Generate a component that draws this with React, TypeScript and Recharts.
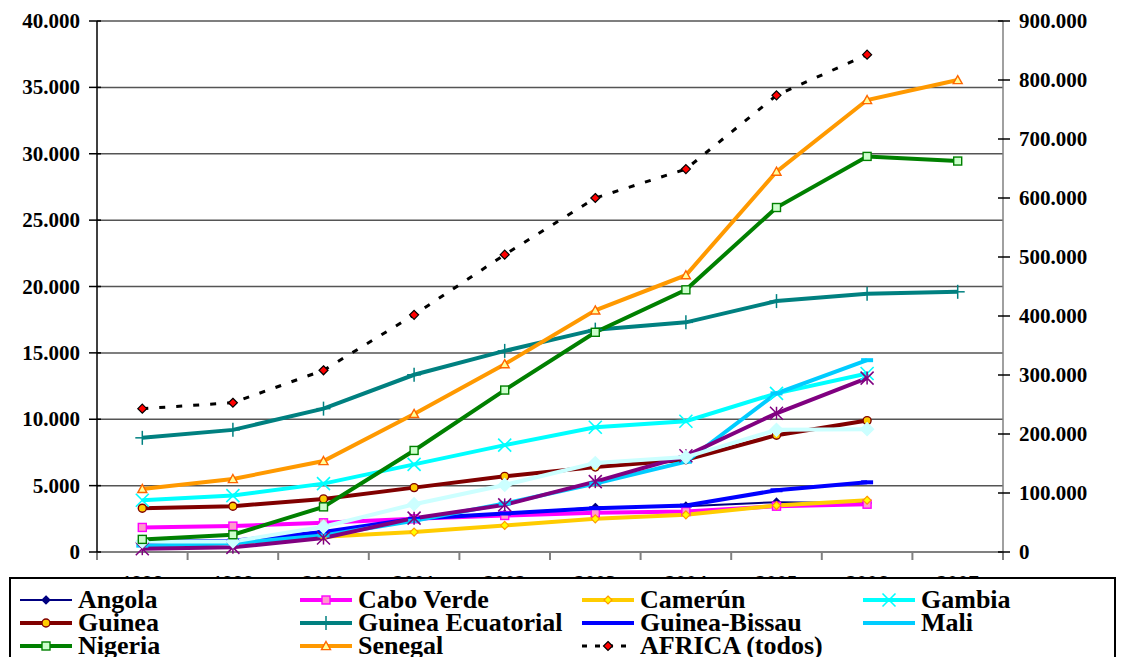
import React from 'react';
import { LineChart, Line, XAxis, YAxis, CartesianGrid } from 'recharts';

// Años (eje X)
const years = ['1998', '1999', '2000', '2001', '2002', '2003', '2004', '2005', '2006', '2007'];

// Series por país (eje izquierdo)
const angola = [900, 850, 1350, 2550, 2850, 3350, 3450, 3750, 3700, null];
const caboVerde = [1850, 1950, 2200, 2500, 2750, 2950, 3050, 3450, 3600, null];
const camerun = [550, 700, 1150, 1500, 2000, 2500, 2800, 3500, 3900, null];
const gambia = [3900, 4250, 5150, 6600, 8050, 9400, 9850, 11950, 13450, null];
const guinea = [3300, 3450, 4000, 4850, 5700, 6400, 6950, 8800, 9900, null];
const guineaEcuatorial = [8600, 9200, 10800, 13350, 15150, 16750, 17300, 18900, 19450, 19600];
const guineaBissau = [750, 850, 1500, 2500, 2900, 3300, 3500, 4650, 5250, null];
const mali = [480, 650, 1250, 2350, 3650, 5150, 6800, 11950, 14450, null];
const otraA = [250, 350, 1050, 2550, 3550, 5300, 7250, 10450, 13100, null];
const otraB = [800, 800, 1900, 3600, 5050, 6700, 7150, 9200, 9250, null];
const nigeria = [950, 1300, 3400, 7650, 12200, 16550, 19750, 25950, 29800, 29450];
const senegal = [4750, 5500, 6850, 10400, 14150, 18200, 20850, 28650, 34050, 35550];

// Total continental (eje derecho)
const africa = [243000, 253000, 308000, 402000, 504000, 600000, 649000, 774000, 843000, null];

const leftTicks = [0, 5000, 10000, 15000, 20000, 25000, 30000, 35000, 40000];
const rightTicks = [0, 100000, 200000, 300000, 400000, 500000, 600000, 700000, 800000, 900000];

const FONT = '"Liberation Serif", "Times New Roman", serif';
const PLOT_W = 906;

type Shape = 'diamond' | 'square' | 'triangle' | 'circle' | 'x' | 'plus' | 'star' | 'dash';

interface Serie {
  key: string;
  label?: string;
  color: string;
  width: number;
  shape: Shape;
  size: number;
  fill: string;
  edge: string;
  axis: 'left' | 'right';
  dash?: string;
  values: (number | null)[];
}

// Orden de dibujo (las últimas quedan encima)
const series: Serie[] = [
  { key: 'angola', label: 'Angola', color: '#000080', width: 2, shape: 'diamond', size: 8, fill: '#000080', edge: '#000080', axis: 'left', values: angola },
  { key: 'caboVerde', label: 'Cabo Verde', color: '#FF00FF', width: 4, shape: 'square', size: 8, fill: '#FF99CC', edge: '#FF00FF', axis: 'left', values: caboVerde },
  { key: 'camerun', label: 'Camerún', color: '#FFCC00', width: 4, shape: 'diamond', size: 8, fill: '#FFFF00', edge: '#FF9900', axis: 'left', values: camerun },
  { key: 'gambia', label: 'Gambia', color: '#00FFFF', width: 4, shape: 'x', size: 13, fill: 'none', edge: '#00FFFF', axis: 'left', values: gambia },
  { key: 'guinea', label: 'Guinea', color: '#800000', width: 4, shape: 'circle', size: 8, fill: '#FFCC00', edge: '#800000', axis: 'left', values: guinea },
  { key: 'guineaEcuatorial', label: 'Guinea Ecuatorial', color: '#008080', width: 4, shape: 'plus', size: 14, fill: 'none', edge: '#008080', axis: 'left', values: guineaEcuatorial },
  { key: 'guineaBissau', label: 'Guinea-Bissau', color: '#0000FF', width: 4, shape: 'dash', size: 12, fill: 'none', edge: '#0000FF', axis: 'left', values: guineaBissau },
  { key: 'mali', label: 'Mali', color: '#00CCFF', width: 4, shape: 'dash', size: 12, fill: 'none', edge: '#00CCFF', axis: 'left', values: mali },
  { key: 'otraA', color: '#800080', width: 4, shape: 'star', size: 13, fill: 'none', edge: '#800080', axis: 'left', values: otraA },
  { key: 'otraB', color: '#CCFFFF', width: 4, shape: 'diamond', size: 13, fill: '#CCFFFF', edge: '#CCFFFF', axis: 'left', values: otraB },
  { key: 'nigeria', label: 'Nigeria', color: '#008000', width: 4, shape: 'square', size: 8, fill: '#CCFFCC', edge: '#008000', axis: 'left', values: nigeria },
  { key: 'senegal', label: 'Senegal', color: '#FF9900', width: 4, shape: 'triangle', size: 9, fill: '#FFFF99', edge: '#FF6600', axis: 'left', values: senegal },
  { key: 'africa', label: 'AFRICA (todos)', color: '#000000', width: 3, shape: 'diamond', size: 9, fill: '#FF0000', edge: '#000000', axis: 'right', dash: '6 11', values: africa },
];

const legendOrder = ['angola', 'caboVerde', 'camerun', 'gambia', 'guinea', 'guineaEcuatorial', 'guineaBissau', 'mali', 'nigeria', 'senegal', 'africa'];
const legendCols = [11, 291, 573, 854];
const legendRows = [21, 44, 67];

const rows = years.map((year, i) => {
  const row: Record<string, string | number | null> = { year };
  series.forEach((s) => {
    row[s.key] = s.values[i];
  });
  return row;
});

const fmt = (v: number) => String(v).replace(/\B(?=(\d{3})+(?!\d))/g, '.');

const Marker = ({ x, y, s }: { x: number; y: number; s: Serie }) => {
  const h = s.size / 2;
  switch (s.shape) {
    case 'diamond':
      return <polygon points={`${x},${y - h} ${x + h},${y} ${x},${y + h} ${x - h},${y}`} fill={s.fill} stroke={s.edge} strokeWidth={1.2} />;
    case 'square':
      return <rect x={x - h} y={y - h} width={s.size} height={s.size} fill={s.fill} stroke={s.edge} strokeWidth={1.4} />;
    case 'triangle':
      return <polygon points={`${x},${y - h} ${x + h},${y + h * 0.8} ${x - h},${y + h * 0.8}`} fill={s.fill} stroke={s.edge} strokeWidth={1.4} />;
    case 'circle':
      return <circle cx={x} cy={y} r={h} fill={s.fill} stroke={s.edge} strokeWidth={1.4} />;
    case 'x':
      return (
        <g stroke={s.edge} strokeWidth={1.6}>
          <line x1={x - h} y1={y - h} x2={x + h} y2={y + h} />
          <line x1={x - h} y1={y + h} x2={x + h} y2={y - h} />
        </g>
      );
    case 'plus':
      return (
        <g stroke={s.edge} strokeWidth={1.5}>
          <line x1={x} y1={y - h} x2={x} y2={y + h} />
          <line x1={x - h} y1={y} x2={x + h} y2={y} />
        </g>
      );
    case 'star':
      return (
        <g stroke={s.edge} strokeWidth={1.5}>
          <line x1={x} y1={y - h} x2={x} y2={y + h} />
          <line x1={x - h} y1={y - h} x2={x + h} y2={y + h} />
          <line x1={x - h} y1={y + h} x2={x + h} y2={y - h} />
        </g>
      );
    case 'dash':
      return <line x1={x - h} y1={y} x2={x + h} y2={y} stroke={s.edge} strokeWidth={4} />;
    default:
      return null;
  }
};

const YearTick = (props: any) => {
  const { x, y, payload, index } = props;
  const band = PLOT_W / years.length;
  return (
    <g>
      <line x1={x - band / 2} y1={y} x2={x - band / 2} y2={y + 8} stroke="#808080" strokeWidth={2} />
      {index === years.length - 1 && (
        <line x1={x + band / 2} y1={y} x2={x + band / 2} y2={y + 8} stroke="#808080" strokeWidth={2} />
      )}
      <text x={x} y={y + 38} textAnchor="middle" fontFamily={FONT} fontWeight="bold" fontSize={21} fill="#000">
        {payload.value}
      </text>
    </g>
  );
};

const LeftTick = (props: any) => {
  const { x, y, payload } = props;
  return (
    <g>
      <line x1={x - 8} y1={y} x2={x + 4} y2={y} stroke="#000" strokeWidth={1.5} />
      <text x={x - 17} y={y + 7} textAnchor="end" fontFamily={FONT} fontWeight="bold" fontSize={21} fill="#000">
        {fmt(payload.value)}
      </text>
    </g>
  );
};

const RightTick = (props: any) => {
  const { x, y, payload } = props;
  return (
    <g>
      <line x1={x - 5} y1={y} x2={x + 7} y2={y} stroke="#000" strokeWidth={1.5} />
      <text x={x + 16} y={y + 7} textAnchor="start" fontFamily={FONT} fontWeight="bold" fontSize={21} fill="#000">
        {fmt(payload.value)}
      </text>
    </g>
  );
};

const LegendIcon = ({ s }: { s: Serie }) => (
  <svg width={52} height={22} style={{ display: 'block' }}>
    <line x1={0} y1={11} x2={52} y2={11} stroke={s.color} strokeWidth={s.width} strokeDasharray={s.dash ? '5 8' : undefined} />
    {s.shape !== 'dash' && <Marker x={26} y={11} s={s} />}
  </svg>
);

const App: React.FC = () => (
  <div style={{ position: 'absolute', left: 0, top: 0, width: 1125, height: 657, overflow: 'hidden', background: '#fff' }}>
    <LineChart width={1125} height={657} data={rows} margin={{ top: 21, right: 10, bottom: 75, left: 10 }}>
      <CartesianGrid yAxisId="left" vertical={false} stroke="#555" strokeWidth={1.5} />
      <XAxis dataKey="year" scale="band" height={30} interval={0} tickLine={false} tickSize={0} tickMargin={0} axisLine={{ stroke: '#808080', strokeWidth: 2 }} tick={<YearTick />} />
      <YAxis yAxisId="left" orientation="left" width={87} domain={[0, 40000]} ticks={leftTicks} interval={0} tickLine={false} tickSize={0} tickMargin={0} axisLine={{ stroke: '#000', strokeWidth: 1.5 }} tick={<LeftTick />} />
      <YAxis yAxisId="right" orientation="right" width={112} domain={[0, 900000]} ticks={rightTicks} interval={0} tickLine={false} tickSize={0} tickMargin={0} axisLine={{ stroke: '#808080', strokeWidth: 1.5 }} tick={<RightTick />} />
      {series.map((s) => (
        <Line
          key={s.key}
          yAxisId={s.axis}
          dataKey={s.key}
          type="linear"
          stroke={s.color}
          strokeWidth={s.width}
          strokeDasharray={s.dash}
          connectNulls={false}
          isAnimationActive={false}
          activeDot={false}
          dot={(p: any) =>
            p.cx == null || p.cy == null || p.value == null ? (
              <g key={`${s.key}-${p.index}`} />
            ) : (
              <g key={`${s.key}-${p.index}`}>
                <Marker x={p.cx} y={p.cy} s={s} />
              </g>
            )
          }
        />
      ))}
    </LineChart>
    {/* Leyenda */}
    <div
      style={{
        position: 'absolute',
        left: 9,
        top: 577,
        width: 1107,
        height: 110,
        border: '2px solid #000',
        background: '#fff',
        boxSizing: 'border-box',
      }}
    >
      {legendOrder.map((k, i) => {
        const s = series.find((x) => x.key === k)!;
        return (
          <div
            key={k}
            style={{
              position: 'absolute',
              left: legendCols[i % 4] - 2,
              top: legendRows[Math.floor(i / 4)] - 13,
              height: 26,
              display: 'flex',
              alignItems: 'center',
              gap: 6,
              fontFamily: FONT,
              fontWeight: 'bold',
              fontSize: 26,
              lineHeight: '26px',
              whiteSpace: 'nowrap',
            }}
          >
            <LegendIcon s={s} />
            <span>{s.label}</span>
          </div>
        );
      })}
    </div>
  </div>
);

export default App;
